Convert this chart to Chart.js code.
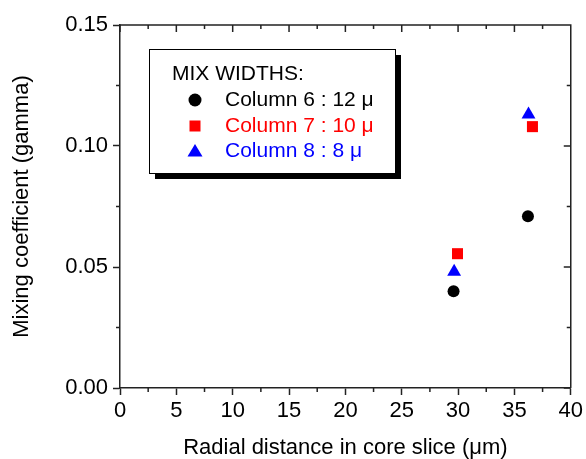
<!DOCTYPE html>
<html>
<head>
<meta charset="utf-8">
<script src="https://cdn.jsdelivr.net/npm/chart.js@4/dist/chart.umd.min.js"></script>
<style>
  body { margin: 0; background: #fff; }
  canvas { display: block; }
</style>
</head>
<body>
<canvas id="mixChart" width="586" height="459"></canvas>
<script>
// data
let col6X = [29.6, 36.2];
let col6Y = [0.040, 0.071];
let col7X = [29.95, 36.6];
let col7Y = [0.0555, 0.108];
let col8X = [29.65, 36.25];
let col8Y = [0.048, 0.113];

let seriesLabels = ["Column 6 : 12 \u03bc", "Column 7 : 10 \u03bc", "Column 8 : 8 \u03bc"];
let seriesColors = ["#000000", "#ff0000", "#0000ff"];
let seriesShapes = ["circle", "rect", "triangle"];
let seriesRadius = [6, 7.8, 8];

// axis ticks
let xTicks = [0, 5, 10, 15, 20, 25, 30, 35, 40];
let yTicks = [0, 0.05, 0.10, 0.15];
let yTickLabels = ["0.00", "0.05", "0.10", "0.15"];

// minor ticks sit halfway between major ones
let xMinor = xTicks.slice(1).map((v, i) => (v + xTicks[i]) / 2);
let yMinor = yTicks.slice(1).map((v, i) => (v + yTicks[i]) / 2);

let fontFamily = "'Liberation Sans', Arial, sans-serif";
let axisColor = "#222";

function points(xs, ys) {
  return xs.map((v, i) => ({ x: v, y: ys[i] }));
}

let allSeries = [points(col6X, col6Y), points(col7X, col7Y), points(col8X, col8Y)];

let datasets = allSeries.map((pts, i) => ({
  label: seriesLabels[i],
  data: pts,
  pointStyle: seriesShapes[i],
  pointRadius: seriesRadius[i],
  backgroundColor: seriesColors[i],
  borderColor: seriesColors[i],
  borderWidth: 0,
  clip: false,
}));

// draws the closed frame, minor / mirrored ticks and the boxed legend
let framePlugin = {
  id: "frame",
  afterDraw(chart) {
    let ctx = chart.ctx;
    let a = chart.chartArea;
    let x = chart.scales.x;
    let y = chart.scales.y;
    ctx.save();
    ctx.strokeStyle = axisColor;
    ctx.lineWidth = 1.5;
    ctx.beginPath();
    ctx.moveTo(a.left, a.top);
    ctx.lineTo(a.right, a.top);
    ctx.lineTo(a.right, a.bottom);
    xTicks.forEach(v => {
      let px = x.getPixelForValue(v);
      ctx.moveTo(px, a.top);
      ctx.lineTo(px, a.top + 7);
    });
    xMinor.forEach(v => {
      let px = x.getPixelForValue(v);
      ctx.moveTo(px, a.bottom);
      ctx.lineTo(px, a.bottom + 4);
      ctx.moveTo(px, a.top);
      ctx.lineTo(px, a.top + 4);
    });
    yTicks.forEach(v => {
      let py = y.getPixelForValue(v);
      ctx.moveTo(a.right, py);
      ctx.lineTo(a.right - 7, py);
    });
    yMinor.forEach(v => {
      let py = y.getPixelForValue(v);
      ctx.moveTo(a.left, py);
      ctx.lineTo(a.left - 4, py);
      ctx.moveTo(a.right, py);
      ctx.lineTo(a.right - 4, py);
    });
    ctx.stroke();

    // legend box with drop shadow
    let bx = a.left + 29, by = a.top + 24, bw = 246, bh = 124;
    ctx.fillStyle = "#000";
    ctx.fillRect(bx + 6, by + 6, bw, bh);
    ctx.fillStyle = "#fff";
    ctx.fillRect(bx, by, bw, bh);
    ctx.strokeStyle = "#000";
    ctx.lineWidth = 1;
    ctx.strokeRect(bx + 0.5, by + 0.5, bw, bh);

    ctx.font = "21px " + fontFamily;
    ctx.textBaseline = "middle";
    ctx.textAlign = "left";
    ctx.fillStyle = "#000";
    ctx.fillText("MIX WIDTHS:", bx + 23, by + 25);

    let rowY = [by + 51, by + 77, by + 102];
    chart.data.datasets.forEach((ds, i) => {
      let mx = bx + 46, my = rowY[i];
      ctx.fillStyle = ds.backgroundColor;
      ctx.beginPath();
      if (ds.pointStyle === "circle") {
        ctx.arc(mx, my, 6.5, 0, Math.PI * 2);
      } else if (ds.pointStyle === "rect") {
        ctx.rect(mx - 5.5, my - 5.5, 11, 11);
      } else {
        ctx.moveTo(mx, my - 7);
        ctx.lineTo(mx + 7.5, my + 5.5);
        ctx.lineTo(mx - 7.5, my + 5.5);
        ctx.closePath();
      }
      ctx.fill();
      ctx.fillText(ds.label, bx + 76, my);
    });
    ctx.restore();
  },
};

let context = document.querySelector("#mixChart").getContext("2d");

let mixChart = new Chart(context, {
  type: "scatter",
  data: { datasets: datasets },
  options: {
    responsive: false,
    animation: false,
    layout: { padding: { top: 25, right: 13, left: 0, bottom: 0 } },
    plugins: {
      legend: { display: false },
      tooltip: { enabled: false },
    },
    scales: {
      x: {
        type: "linear",
        min: 0,
        max: 40,
        afterBuildTicks: scale => {
          scale.ticks = xTicks.map(v => ({ value: v }));
        },
        afterFit: scale => {
          scale.height = 71;
        },
        ticks: {
          color: "#000",
          padding: 3,
          font: { family: fontFamily, size: 22 },
          maxRotation: 0,
        },
        grid: {
          drawOnChartArea: false,
          tickLength: 7,
          tickColor: axisColor,
          tickWidth: 1.5,
        },
        border: { color: axisColor, width: 1.5 },
        title: {
          display: true,
          text: "Radial distance in core slice (\u03bcm)",
          color: "#000",
          font: { family: fontFamily, size: 22, lineHeight: 1 },
          padding: { top: 0, bottom: 0 },
        },
      },
      y: {
        type: "linear",
        min: 0,
        max: 0.15,
        afterBuildTicks: scale => {
          scale.ticks = yTicks.map(v => ({ value: v }));
        },
        afterFit: scale => {
          scale.width = 120;
        },
        ticks: {
          color: "#000",
          padding: 5,
          font: { family: fontFamily, size: 22 },
          callback: (value, index) => yTickLabels[index],
        },
        grid: {
          drawOnChartArea: false,
          tickLength: 7,
          tickColor: axisColor,
          tickWidth: 1.5,
        },
        border: { color: axisColor, width: 1.5 },
        title: {
          display: true,
          text: "Mixing coefficient (gamma)",
          color: "#000",
          font: { family: fontFamily, size: 22, lineHeight: 1 },
          padding: { top: 11, bottom: 0 },
        },
      },
    },
  },
  plugins: [framePlugin],
});
</script>
</body>
</html>
